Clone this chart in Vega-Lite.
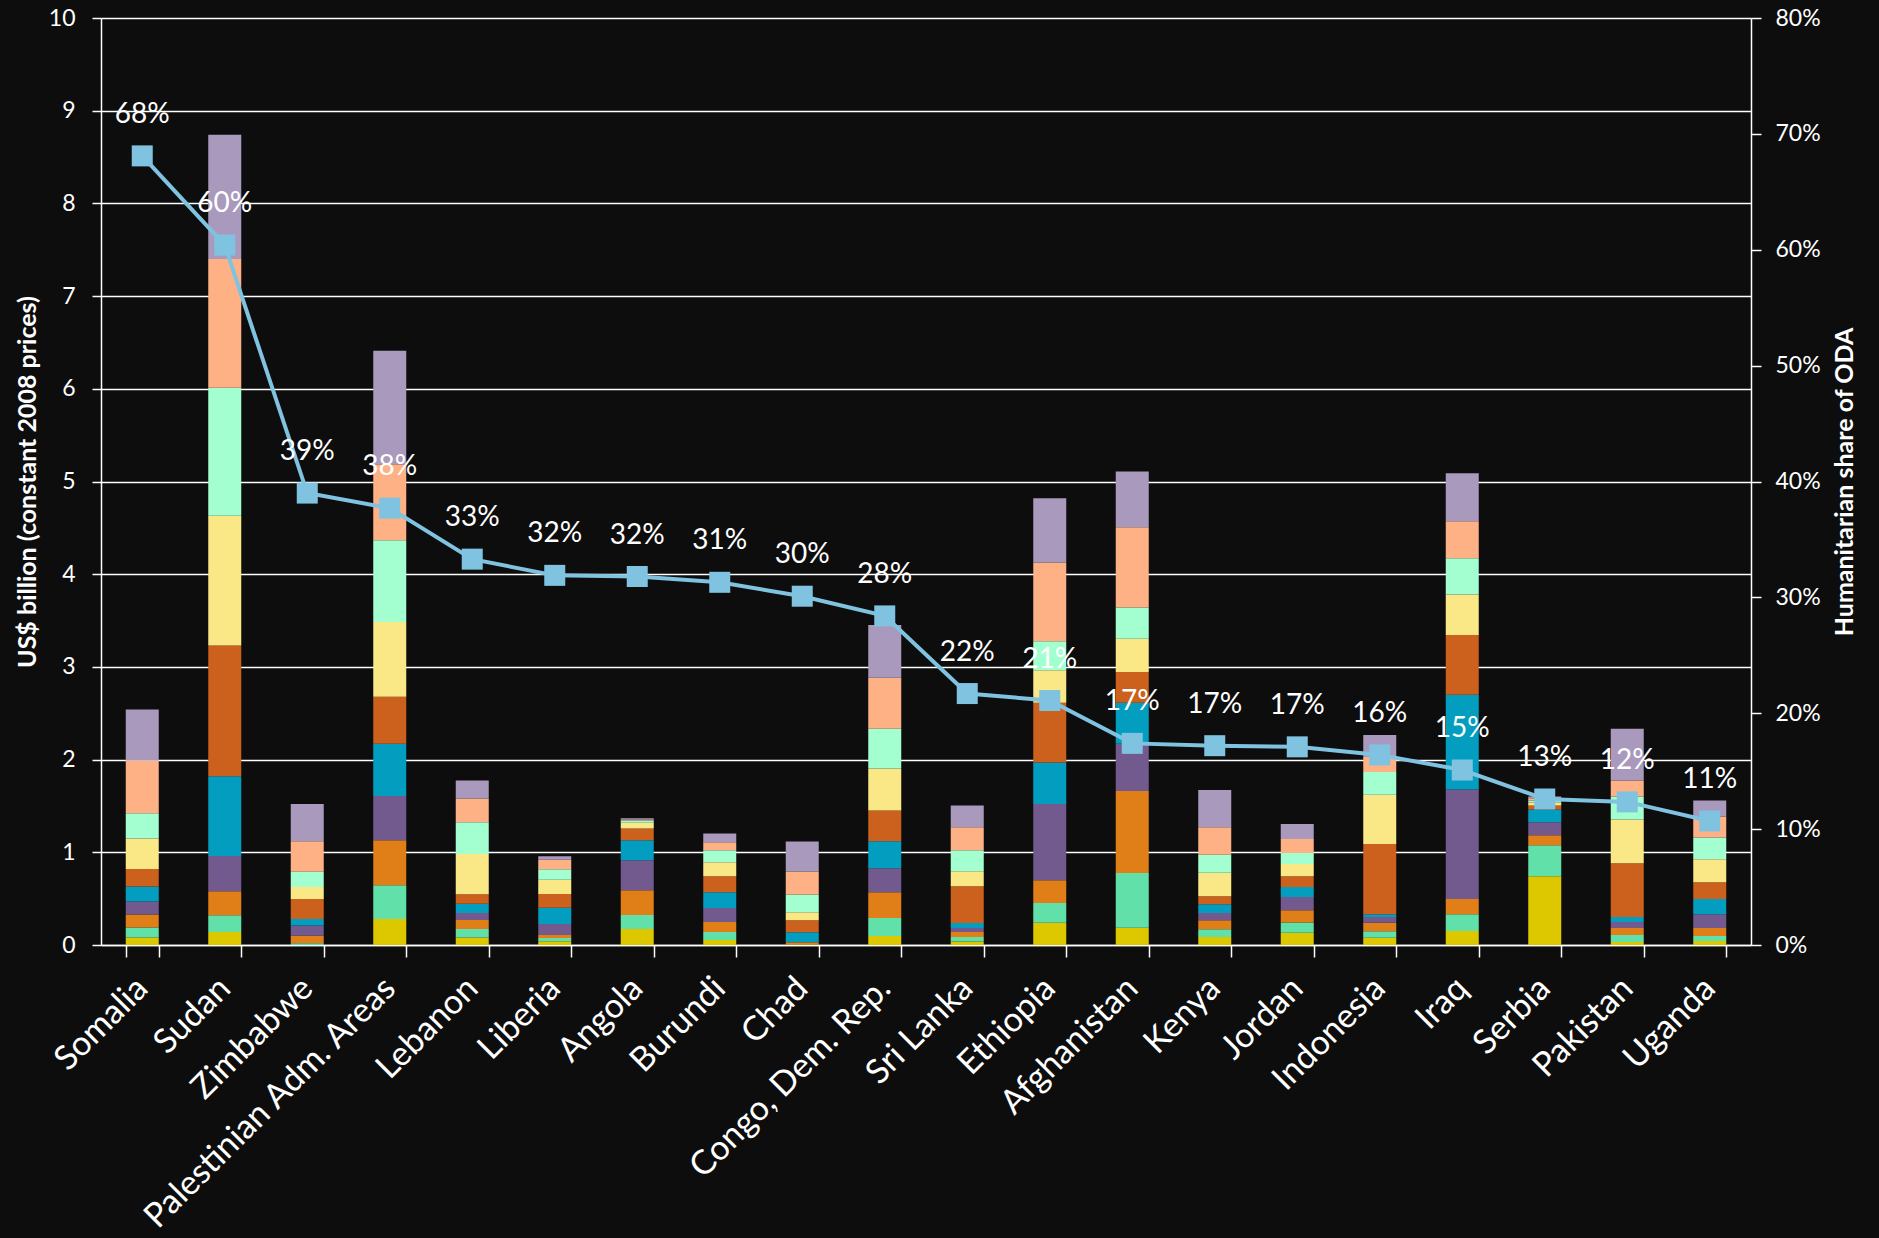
{
  "$schema": "https://vega.github.io/schema/vega-lite/v6.json",
  "width": 1650,
  "height": 927,
  "autosize": {"type": "none"},
  "padding": {"left": 101, "top": 18, "right": 128, "bottom": 293},
  "background": "#0D0D0D",
  "config": {
    "view": {"stroke": null},
    "font": "Lato",
    "axis": {
      "domainColor": "#FFFFFF",
      "domainWidth": 1.5,
      "tickColor": "#FFFFFF",
      "tickWidth": 1.5,
      "labelColor": "#FFFFFF",
      "titleColor": "#FFFFFF",
      "labelFont": "Lato",
      "titleFont": "Lato"
    }
  },
  "datasets": {
    "bars": [
      {"country": "Somalia", "year": "1999", "value": 0.08},
      {"country": "Somalia", "year": "2000", "value": 0.11},
      {"country": "Somalia", "year": "2001", "value": 0.14},
      {"country": "Somalia", "year": "2002", "value": 0.14},
      {"country": "Somalia", "year": "2003", "value": 0.16},
      {"country": "Somalia", "year": "2004", "value": 0.19},
      {"country": "Somalia", "year": "2005", "value": 0.33},
      {"country": "Somalia", "year": "2006", "value": 0.27},
      {"country": "Somalia", "year": "2007", "value": 0.57},
      {"country": "Somalia", "year": "2008", "value": 0.55},
      {"country": "Sudan", "year": "1999", "value": 0.14},
      {"country": "Sudan", "year": "2000", "value": 0.18},
      {"country": "Sudan", "year": "2001", "value": 0.26},
      {"country": "Sudan", "year": "2002", "value": 0.38},
      {"country": "Sudan", "year": "2003", "value": 0.86},
      {"country": "Sudan", "year": "2004", "value": 1.41},
      {"country": "Sudan", "year": "2005", "value": 1.40},
      {"country": "Sudan", "year": "2006", "value": 1.38},
      {"country": "Sudan", "year": "2007", "value": 1.39},
      {"country": "Sudan", "year": "2008", "value": 1.34},
      {"country": "Zimbabwe", "year": "1999", "value": 0.0},
      {"country": "Zimbabwe", "year": "2000", "value": 0.02},
      {"country": "Zimbabwe", "year": "2001", "value": 0.08},
      {"country": "Zimbabwe", "year": "2002", "value": 0.11},
      {"country": "Zimbabwe", "year": "2003", "value": 0.07},
      {"country": "Zimbabwe", "year": "2004", "value": 0.215},
      {"country": "Zimbabwe", "year": "2005", "value": 0.13},
      {"country": "Zimbabwe", "year": "2006", "value": 0.165},
      {"country": "Zimbabwe", "year": "2007", "value": 0.33},
      {"country": "Zimbabwe", "year": "2008", "value": 0.40},
      {"country": "Palestinian Adm. Areas", "year": "1999", "value": 0.28},
      {"country": "Palestinian Adm. Areas", "year": "2000", "value": 0.365},
      {"country": "Palestinian Adm. Areas", "year": "2001", "value": 0.484},
      {"country": "Palestinian Adm. Areas", "year": "2002", "value": 0.477},
      {"country": "Palestinian Adm. Areas", "year": "2003", "value": 0.566},
      {"country": "Palestinian Adm. Areas", "year": "2004", "value": 0.505},
      {"country": "Palestinian Adm. Areas", "year": "2005", "value": 0.807},
      {"country": "Palestinian Adm. Areas", "year": "2006", "value": 0.882},
      {"country": "Palestinian Adm. Areas", "year": "2007", "value": 0.821},
      {"country": "Palestinian Adm. Areas", "year": "2008", "value": 1.223},
      {"country": "Lebanon", "year": "1999", "value": 0.082},
      {"country": "Lebanon", "year": "2000", "value": 0.09},
      {"country": "Lebanon", "year": "2001", "value": 0.097},
      {"country": "Lebanon", "year": "2002", "value": 0.075},
      {"country": "Lebanon", "year": "2003", "value": 0.10},
      {"country": "Lebanon", "year": "2004", "value": 0.104},
      {"country": "Lebanon", "year": "2005", "value": 0.434},
      {"country": "Lebanon", "year": "2006", "value": 0.341},
      {"country": "Lebanon", "year": "2007", "value": 0.258},
      {"country": "Lebanon", "year": "2008", "value": 0.193},
      {"country": "Liberia", "year": "1999", "value": 0.04},
      {"country": "Liberia", "year": "2000", "value": 0.036},
      {"country": "Liberia", "year": "2001", "value": 0.033},
      {"country": "Liberia", "year": "2002", "value": 0.118},
      {"country": "Liberia", "year": "2003", "value": 0.175},
      {"country": "Liberia", "year": "2004", "value": 0.147},
      {"country": "Liberia", "year": "2005", "value": 0.155},
      {"country": "Liberia", "year": "2006", "value": 0.114},
      {"country": "Liberia", "year": "2007", "value": 0.101},
      {"country": "Liberia", "year": "2008", "value": 0.039},
      {"country": "Angola", "year": "1999", "value": 0.172},
      {"country": "Angola", "year": "2000", "value": 0.151},
      {"country": "Angola", "year": "2001", "value": 0.268},
      {"country": "Angola", "year": "2002", "value": 0.323},
      {"country": "Angola", "year": "2003", "value": 0.215},
      {"country": "Angola", "year": "2004", "value": 0.129},
      {"country": "Angola", "year": "2005", "value": 0.061},
      {"country": "Angola", "year": "2006", "value": 0.025},
      {"country": "Angola", "year": "2007", "value": 0.011},
      {"country": "Angola", "year": "2008", "value": 0.011},
      {"country": "Burundi", "year": "1999", "value": 0.054},
      {"country": "Burundi", "year": "2000", "value": 0.086},
      {"country": "Burundi", "year": "2001", "value": 0.107},
      {"country": "Burundi", "year": "2002", "value": 0.151},
      {"country": "Burundi", "year": "2003", "value": 0.172},
      {"country": "Burundi", "year": "2004", "value": 0.172},
      {"country": "Burundi", "year": "2005", "value": 0.15},
      {"country": "Burundi", "year": "2006", "value": 0.13},
      {"country": "Burundi", "year": "2007", "value": 0.086},
      {"country": "Burundi", "year": "2008", "value": 0.096},
      {"country": "Chad", "year": "1999", "value": 0.005},
      {"country": "Chad", "year": "2000", "value": 0.0},
      {"country": "Chad", "year": "2001", "value": 0.025},
      {"country": "Chad", "year": "2002", "value": 0.0},
      {"country": "Chad", "year": "2003", "value": 0.108},
      {"country": "Chad", "year": "2004", "value": 0.129},
      {"country": "Chad", "year": "2005", "value": 0.086},
      {"country": "Chad", "year": "2006", "value": 0.193},
      {"country": "Chad", "year": "2007", "value": 0.248},
      {"country": "Chad", "year": "2008", "value": 0.322},
      {"country": "Congo, Dem. Rep.", "year": "1999", "value": 0.097},
      {"country": "Congo, Dem. Rep.", "year": "2000", "value": 0.193},
      {"country": "Congo, Dem. Rep.", "year": "2001", "value": 0.28},
      {"country": "Congo, Dem. Rep.", "year": "2002", "value": 0.258},
      {"country": "Congo, Dem. Rep.", "year": "2003", "value": 0.29},
      {"country": "Congo, Dem. Rep.", "year": "2004", "value": 0.334},
      {"country": "Congo, Dem. Rep.", "year": "2005", "value": 0.451},
      {"country": "Congo, Dem. Rep.", "year": "2006", "value": 0.43},
      {"country": "Congo, Dem. Rep.", "year": "2007", "value": 0.549},
      {"country": "Congo, Dem. Rep.", "year": "2008", "value": 0.57},
      {"country": "Sri Lanka", "year": "1999", "value": 0.039},
      {"country": "Sri Lanka", "year": "2000", "value": 0.047},
      {"country": "Sri Lanka", "year": "2001", "value": 0.054},
      {"country": "Sri Lanka", "year": "2002", "value": 0.043},
      {"country": "Sri Lanka", "year": "2003", "value": 0.054},
      {"country": "Sri Lanka", "year": "2004", "value": 0.397},
      {"country": "Sri Lanka", "year": "2005", "value": 0.162},
      {"country": "Sri Lanka", "year": "2006", "value": 0.226},
      {"country": "Sri Lanka", "year": "2007", "value": 0.247},
      {"country": "Sri Lanka", "year": "2008", "value": 0.236},
      {"country": "Ethiopia", "year": "1999", "value": 0.239},
      {"country": "Ethiopia", "year": "2000", "value": 0.213},
      {"country": "Ethiopia", "year": "2001", "value": 0.247},
      {"country": "Ethiopia", "year": "2002", "value": 0.822},
      {"country": "Ethiopia", "year": "2003", "value": 0.448},
      {"country": "Ethiopia", "year": "2004", "value": 0.645},
      {"country": "Ethiopia", "year": "2005", "value": 0.351},
      {"country": "Ethiopia", "year": "2006", "value": 0.313},
      {"country": "Ethiopia", "year": "2007", "value": 0.849},
      {"country": "Ethiopia", "year": "2008", "value": 0.692},
      {"country": "Afghanistan", "year": "1999", "value": 0.185},
      {"country": "Afghanistan", "year": "2000", "value": 0.591},
      {"country": "Afghanistan", "year": "2001", "value": 0.884},
      {"country": "Afghanistan", "year": "2002", "value": 0.51},
      {"country": "Afghanistan", "year": "2003", "value": 0.444},
      {"country": "Afghanistan", "year": "2004", "value": 0.332},
      {"country": "Afghanistan", "year": "2005", "value": 0.359},
      {"country": "Afghanistan", "year": "2006", "value": 0.336},
      {"country": "Afghanistan", "year": "2007", "value": 0.865},
      {"country": "Afghanistan", "year": "2008", "value": 0.602},
      {"country": "Kenya", "year": "1999", "value": 0.085},
      {"country": "Kenya", "year": "2000", "value": 0.085},
      {"country": "Kenya", "year": "2001", "value": 0.096},
      {"country": "Kenya", "year": "2002", "value": 0.078},
      {"country": "Kenya", "year": "2003", "value": 0.096},
      {"country": "Kenya", "year": "2004", "value": 0.085},
      {"country": "Kenya", "year": "2005", "value": 0.255},
      {"country": "Kenya", "year": "2006", "value": 0.193},
      {"country": "Kenya", "year": "2007", "value": 0.297},
      {"country": "Kenya", "year": "2008", "value": 0.402},
      {"country": "Jordan", "year": "1999", "value": 0.131},
      {"country": "Jordan", "year": "2000", "value": 0.112},
      {"country": "Jordan", "year": "2001", "value": 0.132},
      {"country": "Jordan", "year": "2002", "value": 0.142},
      {"country": "Jordan", "year": "2003", "value": 0.108},
      {"country": "Jordan", "year": "2004", "value": 0.116},
      {"country": "Jordan", "year": "2005", "value": 0.132},
      {"country": "Jordan", "year": "2006", "value": 0.119},
      {"country": "Jordan", "year": "2007", "value": 0.151},
      {"country": "Jordan", "year": "2008", "value": 0.162},
      {"country": "Indonesia", "year": "1999", "value": 0.077},
      {"country": "Indonesia", "year": "2000", "value": 0.07},
      {"country": "Indonesia", "year": "2001", "value": 0.092},
      {"country": "Indonesia", "year": "2002", "value": 0.062},
      {"country": "Indonesia", "year": "2003", "value": 0.031},
      {"country": "Indonesia", "year": "2004", "value": 0.757},
      {"country": "Indonesia", "year": "2005", "value": 0.533},
      {"country": "Indonesia", "year": "2006", "value": 0.243},
      {"country": "Indonesia", "year": "2007", "value": 0.162},
      {"country": "Indonesia", "year": "2008", "value": 0.239},
      {"country": "Iraq", "year": "1999", "value": 0.151},
      {"country": "Iraq", "year": "2000", "value": 0.182},
      {"country": "Iraq", "year": "2001", "value": 0.162},
      {"country": "Iraq", "year": "2002", "value": 1.182},
      {"country": "Iraq", "year": "2003", "value": 1.022},
      {"country": "Iraq", "year": "2004", "value": 0.645},
      {"country": "Iraq", "year": "2005", "value": 0.437},
      {"country": "Iraq", "year": "2006", "value": 0.391},
      {"country": "Iraq", "year": "2007", "value": 0.398},
      {"country": "Iraq", "year": "2008", "value": 0.519},
      {"country": "Serbia", "year": "1999", "value": 0.742},
      {"country": "Serbia", "year": "2000", "value": 0.333},
      {"country": "Serbia", "year": "2001", "value": 0.108},
      {"country": "Serbia", "year": "2002", "value": 0.14},
      {"country": "Serbia", "year": "2003", "value": 0.139},
      {"country": "Serbia", "year": "2004", "value": 0.043},
      {"country": "Serbia", "year": "2005", "value": 0.033},
      {"country": "Serbia", "year": "2006", "value": 0.021},
      {"country": "Serbia", "year": "2007", "value": 0.025},
      {"country": "Serbia", "year": "2008", "value": 0.018},
      {"country": "Pakistan", "year": "1999", "value": 0.032},
      {"country": "Pakistan", "year": "2000", "value": 0.076},
      {"country": "Pakistan", "year": "2001", "value": 0.075},
      {"country": "Pakistan", "year": "2002", "value": 0.064},
      {"country": "Pakistan", "year": "2003", "value": 0.054},
      {"country": "Pakistan", "year": "2004", "value": 0.581},
      {"country": "Pakistan", "year": "2005", "value": 0.473},
      {"country": "Pakistan", "year": "2006", "value": 0.247},
      {"country": "Pakistan", "year": "2007", "value": 0.172},
      {"country": "Pakistan", "year": "2008", "value": 0.559},
      {"country": "Uganda", "year": "1999", "value": 0.043},
      {"country": "Uganda", "year": "2000", "value": 0.054},
      {"country": "Uganda", "year": "2001", "value": 0.086},
      {"country": "Uganda", "year": "2002", "value": 0.15},
      {"country": "Uganda", "year": "2003", "value": 0.162},
      {"country": "Uganda", "year": "2004", "value": 0.182},
      {"country": "Uganda", "year": "2005", "value": 0.248},
      {"country": "Uganda", "year": "2006", "value": 0.236},
      {"country": "Uganda", "year": "2007", "value": 0.226},
      {"country": "Uganda", "year": "2008", "value": 0.172}
    ],
    "share": [
      {"country": "Somalia", "share": 0.681},
      {"country": "Sudan", "share": 0.604},
      {"country": "Zimbabwe", "share": 0.390},
      {"country": "Palestinian Adm. Areas", "share": 0.377},
      {"country": "Lebanon", "share": 0.333},
      {"country": "Liberia", "share": 0.319},
      {"country": "Angola", "share": 0.318},
      {"country": "Burundi", "share": 0.313},
      {"country": "Chad", "share": 0.301},
      {"country": "Congo, Dem. Rep.", "share": 0.284},
      {"country": "Sri Lanka", "share": 0.217},
      {"country": "Ethiopia", "share": 0.211},
      {"country": "Afghanistan", "share": 0.174},
      {"country": "Kenya", "share": 0.172},
      {"country": "Jordan", "share": 0.171},
      {"country": "Indonesia", "share": 0.164},
      {"country": "Iraq", "share": 0.151},
      {"country": "Serbia", "share": 0.126},
      {"country": "Pakistan", "share": 0.1235},
      {"country": "Uganda", "share": 0.107}
    ]
  },
  "encoding": {
    "x": {
      "field": "country",
      "type": "nominal",
      "sort": ["Somalia", "Sudan", "Zimbabwe", "Palestinian Adm. Areas", "Lebanon", "Liberia", "Angola", "Burundi", "Chad", "Congo, Dem. Rep.", "Sri Lanka", "Ethiopia", "Afghanistan", "Kenya", "Jordan", "Indonesia", "Iraq", "Serbia", "Pakistan", "Uganda"],
      "scale": {"paddingInner": 0.6, "paddingOuter": 0.3},
      "axis": {
        "title": null,
        "tickBand": "extent",
        "tickSize": 12,
        "labelAngle": -45,
        "labelAlign": "right",
        "labelBaseline": "middle",
        "labelFontSize": 34,
        "labelPadding": 26,
        "labelLimit": 1000
      }
    }
  },
  "layer": [
    {
      "data": {"name": "bars"},
      "mark": {"type": "bar"},
      "encoding": {
        "y": {
          "field": "value",
          "type": "quantitative",
          "stack": "zero",
          "scale": {"domain": [0, 10], "nice": false},
          "axis": {
            "orient": "left",
            "values": [0, 1, 2, 3, 4, 5, 6, 7, 8, 9, 10],
            "format": "d",
            "grid": true,
            "gridColor": "#FFFFFF",
            "gridWidth": 1.5,
            "tickSize": 9,
            "labelFontSize": 23,
            "labelPadding": 17,
            "title": "US$ billion (constant 2008 prices)",
            "titleFontSize": 25,
            "titleFontWeight": "bold",
            "titlePadding": 8
          }
        },
        "color": {
          "field": "year",
          "type": "nominal",
          "scale": {
            "domain": ["1999", "2000", "2001", "2002", "2003", "2004", "2005", "2006", "2007", "2008"],
            "range": ["#DDC800", "#62E0A9", "#E07E17", "#725A8E", "#039DC0", "#CC611D", "#FAE786", "#A3FFD0", "#FFB186", "#A99ABD"]
          },
          "legend": null
        },
        "order": {"field": "year", "type": "ordinal", "sort": "ascending"}
      }
    },
    {
      "data": {"name": "share"},
      "encoding": {
        "y": {
          "field": "share",
          "type": "quantitative",
          "scale": {"domain": [0, 0.8], "nice": false}
        }
      },
      "layer": [
        {
          "mark": {"type": "line", "color": "#7FC3E0", "strokeWidth": 4},
          "encoding": {
            "y": {
              "field": "share",
              "type": "quantitative",
              "axis": {
                "orient": "right",
                "values": [0, 0.1, 0.2, 0.3, 0.4, 0.5, 0.6, 0.7, 0.8],
                "format": ".0%",
                "grid": false,
                "tickSize": 10,
                "labelFontSize": 23,
                "labelPadding": 14,
                "title": "Humanitarian share of ODA",
                "titleFontSize": 25,
                "titleFontWeight": "bold",
                "titleAngle": 270,
                "titleBaseline": "top",
                "titlePadding": 12
              }
            }
          }
        },
        {
          "mark": {"type": "point", "shape": "square", "filled": true, "size": 441, "color": "#7FC3E0", "opacity": 1}
        },
        {
          "mark": {"type": "text", "dy": -41, "color": "#FFFFFF", "fontSize": 28, "font": "Lato", "baseline": "middle", "align": "center"},
          "encoding": {
            "text": {"field": "share", "type": "quantitative", "format": ".0%"}
          }
        }
      ]
    }
  ],
  "resolve": {"scale": {"y": "independent"}}
}
